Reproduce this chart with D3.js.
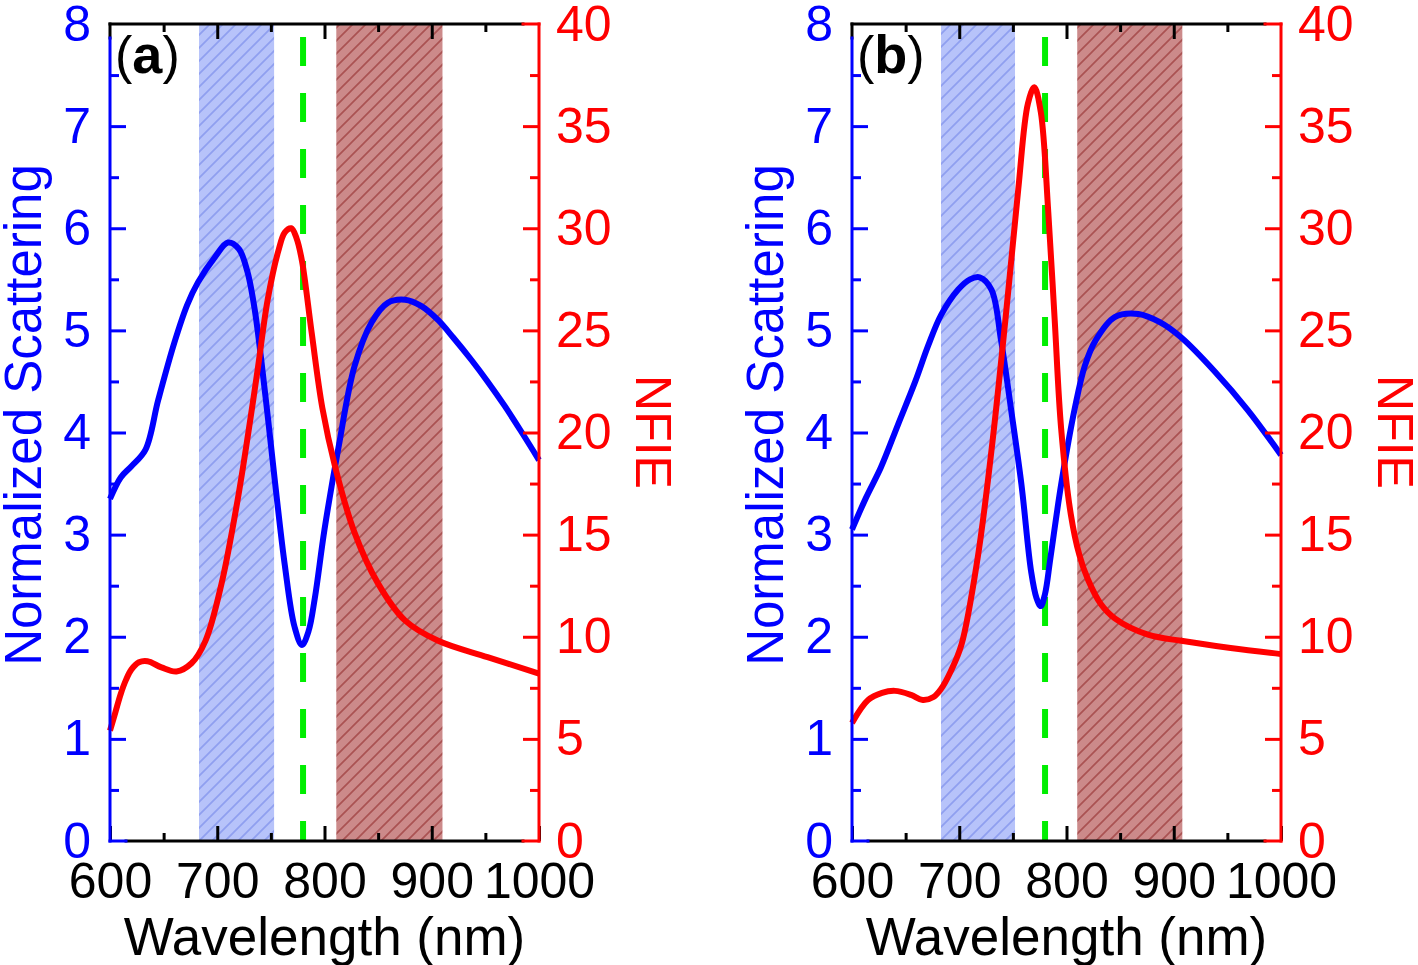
<!DOCTYPE html>
<html><head><meta charset="utf-8">
<script src="https://cdn.jsdelivr.net/npm/d3@7"></script>
<style>
html,body{margin:0;padding:0;background:#fff;}
svg{display:block;font-family:"Liberation Sans",Arial,sans-serif;}
</style></head>
<body>
<svg id="chart" width="1418" height="965"></svg>
<script>
// ---------- DATA ----------
const xTicks = [600, 700, 800, 900, 1000];
const xMinorTicks = [650, 750, 850, 950];
const leftTicks = [0, 1, 2, 3, 4, 5, 6, 7, 8];
const leftMinorTicks = [0.5, 1.5, 2.5, 3.5, 4.5, 5.5, 6.5, 7.5];
const rightTicks = [0, 5, 10, 15, 20, 25, 30, 35, 40];
const rightMinorTicks = [2.5, 7.5, 12.5, 17.5, 22.5, 27.5, 32.5, 37.5];

const panelLabels = ["a", "b"];
const blueBands = [[683, 753], [683, 752]];
const redBands = [[811, 910], [810, 908]];
const markerWavelength = [780, 780];

// panel (a) normalized scattering
const scatA_wl = [600,610,620,633,645,660,672,682,698,710,720,728,735,745,754,763,772,779,785,791,800,813,828,844,859,875,890,906,920,937,952,968,984,1000];
const scatA_v  = [3.35,3.56,3.67,3.83,4.32,4.88,5.25,5.47,5.72,5.86,5.8,5.58,5.2,4.35,3.5,2.7,2.1,1.92,2.05,2.38,3.05,3.85,4.65,5.08,5.27,5.3,5.24,5.1,4.93,4.71,4.5,4.26,4.0,3.73];
// panel (a) NFIE
const nfieA_wl = [600,605,610,615,620,627,635,648,662,676,689,704,719,729,738,747,757,763,769,774,779,788,798,810,828,850,875,906,952,1000];
const nfieA_v  = [5.4,6.3,7.2,7.9,8.4,8.75,8.8,8.5,8.3,8.7,9.8,12.6,16.7,20.0,23.2,26.5,28.9,29.8,30.0,29.5,28.4,24.9,21.2,18.3,15.1,12.6,10.8,9.8,9.0,8.2];
// panel (b) normalized scattering
const scatB_wl = [600,613,627,643,659,671,683,699,710,719,730,739,748,758,767,772,776,780,785,795,808,817,827,845,867,887,907,938,969,1000];
const scatB_v  = [3.05,3.36,3.66,4.08,4.5,4.85,5.15,5.4,5.5,5.52,5.4,4.9,4.25,3.49,2.64,2.38,2.3,2.42,2.77,3.49,4.25,4.65,4.9,5.13,5.16,5.08,4.93,4.6,4.22,3.78];
// panel (b) NFIE
const nfieB_wl = [600,615,628,640,655,666,676,683,692,702,717,730,743,755,764,770,776,783,789,795,804,812,820,832,845,876,907,953,1000];
const nfieB_v  = [5.78,6.9,7.25,7.35,7.15,6.9,7.05,7.44,8.3,9.6,13.8,19.1,25.5,31.9,36.1,36.9,35.7,30.8,25.5,20.2,16.0,14.0,12.8,11.6,10.9,10.1,9.8,9.45,9.15];

const panels = [
  {label: panelLabels[0], scatWl: scatA_wl, scatV: scatA_v, nfieWl: nfieA_wl, nfieV: nfieA_v, blue: blueBands[0], red: redBands[0], mark: markerWavelength[0]},
  {label: panelLabels[1], scatWl: scatB_wl, scatV: scatB_v, nfieWl: nfieB_wl, nfieV: nfieB_v, blue: blueBands[1], red: redBands[1], mark: markerWavelength[1]}
];

// ---------- DRAW ----------
const svg = d3.select("#chart");
const defs = svg.append("defs");
function hatch(id, bg, fg) {
  const s = 13;
  const p = defs.append("pattern").attr("id", id).attr("patternUnits", "userSpaceOnUse")
    .attr("width", s).attr("height", s);
  p.append("rect").attr("width", s).attr("height", s).attr("fill", bg);
  p.append("path").attr("d", `M-1,1 l2,-2 M0,${s} l${s},-${s} M${s-1},${s+1} l2,-2`)
    .attr("stroke", fg).attr("stroke-width", 1.7);
}
hatch("hBlue", "#b7c3fa", "#8f9ff0");
hatch("hRed", "#cc8a8a", "#aa5252");

const BLUE = "#0000ff", RED = "#ff0000";
const plotTop = 24, plotBottom = 841, plotW = 429, fs = 50;
const offsets = [110, 852];

panels.forEach((P, i) => {
  const left = offsets[i], right = left + plotW;
  const x = d3.scaleLinear().domain([600, 1000]).range([left, right]);
  const yL = d3.scaleLinear().domain([0, 8]).range([plotBottom, plotTop]);
  const yR = d3.scaleLinear().domain([0, 40]).range([plotBottom, plotTop]);
  const g = svg.append("g");

  // bands
  g.append("rect").attr("x", x(P.blue[0])).attr("y", plotTop).attr("width", x(P.blue[1]) - x(P.blue[0]))
    .attr("height", plotBottom - plotTop).attr("fill", "url(#hBlue)");
  g.append("rect").attr("x", x(P.red[0])).attr("y", plotTop).attr("width", x(P.red[1]) - x(P.red[0]))
    .attr("height", plotBottom - plotTop).attr("fill", "url(#hRed)");

  // green dashed marker
  g.append("line").attr("x1", x(P.mark)).attr("x2", x(P.mark)).attr("y1", plotTop).attr("y2", plotBottom)
    .attr("stroke", "#00ee00").attr("stroke-width", 6)
    .attr("stroke-dasharray", "29,27").attr("stroke-dashoffset", 43);

  // curves
  const lineL = d3.line().x(d => x(d[0])).y(d => yL(d[1])).curve(d3.curveCatmullRom.alpha(0.5));
  const lineR = d3.line().x(d => x(d[0])).y(d => yR(d[1])).curve(d3.curveCatmullRom.alpha(0.5));
  g.append("path").datum(d3.zip(P.scatWl, P.scatV)).attr("d", lineL)
    .attr("fill", "none").attr("stroke", BLUE).attr("stroke-width", 6).attr("stroke-linejoin", "round");
  g.append("path").datum(d3.zip(P.nfieWl, P.nfieV)).attr("d", lineR)
    .attr("fill", "none").attr("stroke", RED).attr("stroke-width", 6).attr("stroke-linejoin", "round");

  // axes
  function styleAxis(sel, color) {
    sel.select(".domain").remove();
    sel.selectAll("line").attr("stroke", color).attr("stroke-width", 3);
    sel.selectAll("text").attr("fill", color).style("font-size", fs + "px")
      .style("font-family", '"Liberation Sans", Arial, sans-serif');
  }
  const bAx = g.append("g").attr("transform", `translate(0,${plotBottom})`)
    .call(d3.axisBottom(x).tickValues(xTicks).tickSize(-15).tickPadding(21).tickFormat(d3.format("d")));
  styleAxis(bAx, "#000");
  const bAxm = g.append("g").attr("transform", `translate(0,${plotBottom})`)
    .call(d3.axisBottom(x).tickValues(xMinorTicks).tickSize(-8).tickFormat(""));
  styleAxis(bAxm, "#000");
  const tAx = g.append("g").attr("transform", `translate(0,${plotTop})`)
    .call(d3.axisTop(x).tickValues(xTicks.slice(1, -1)).tickSize(-15).tickFormat(""));
  styleAxis(tAx, "#000");
  const tAxm = g.append("g").attr("transform", `translate(0,${plotTop})`)
    .call(d3.axisTop(x).tickValues(xMinorTicks).tickSize(-8).tickFormat(""));
  styleAxis(tAxm, "#000");

  const lAx = g.append("g").attr("transform", `translate(${left},0)`)
    .call(d3.axisLeft(yL).tickValues(leftTicks).tickSize(-16).tickPadding(19).tickFormat(d3.format("d")));
  styleAxis(lAx, BLUE);
  lAx.selectAll(".tick").filter(d => d === 0 || d === 8).select("line").remove();
  const lAxm = g.append("g").attr("transform", `translate(${left},0)`)
    .call(d3.axisLeft(yL).tickValues(leftMinorTicks).tickSize(-9).tickFormat(""));
  styleAxis(lAxm, BLUE);

  const rAx = g.append("g").attr("transform", `translate(${right},0)`)
    .call(d3.axisRight(yR).tickValues(rightTicks).tickSize(-16).tickPadding(17).tickFormat(d3.format("d")));
  styleAxis(rAx, RED);
  rAx.selectAll(".tick").filter(d => d === 0 || d === 40).select("line").remove();
  const rAxm = g.append("g").attr("transform", `translate(${right},0)`)
    .call(d3.axisRight(yR).tickValues(rightMinorTicks).tickSize(-9).tickFormat(""));
  styleAxis(rAxm, RED);

  // frame lines
  const fr = g.append("g").attr("stroke-width", 3).attr("stroke-linecap", "square");
  fr.append("line").attr("x1", left).attr("x2", right - 16).attr("y1", plotTop).attr("y2", plotTop).attr("stroke", "#000");
  fr.append("line").attr("x1", left).attr("x2", left).attr("y1", plotTop).attr("y2", plotTop + 14).attr("stroke", "#000");
  fr.append("line").attr("x1", left + 16).attr("x2", right - 16).attr("y1", plotBottom).attr("y2", plotBottom).attr("stroke", "#000");
  fr.append("line").attr("x1", left).attr("x2", left).attr("y1", plotTop + 14).attr("y2", plotBottom).attr("stroke", BLUE);
  fr.append("line").attr("x1", left).attr("x2", left + 16).attr("y1", plotBottom).attr("y2", plotBottom).attr("stroke", BLUE);
  fr.append("line").attr("x1", right).attr("x2", right).attr("y1", plotTop).attr("y2", plotBottom).attr("stroke", RED);
  fr.append("line").attr("x1", right - 16).attr("x2", right).attr("y1", plotTop).attr("y2", plotTop).attr("stroke", RED);
  fr.append("line").attr("x1", right - 16).attr("x2", right).attr("y1", plotBottom).attr("y2", plotBottom).attr("stroke", RED);

  // titles
  g.append("text").attr("x", (left + right) / 2).attr("y", 955).attr("text-anchor", "middle")
    .style("font-size", "53px").attr("fill", "#000").text("Wavelength (nm)");
  g.append("text").attr("transform", `translate(${left - 69},415) rotate(-90)`).attr("text-anchor", "middle")
    .style("font-size", "51px").attr("fill", BLUE).text("Normalized Scattering");
  g.append("text").attr("transform", `translate(${right + 97},432) rotate(90)`).attr("text-anchor", "middle")
    .style("font-size", fs + "px").attr("fill", RED).text("NFIE");

  // panel label
  const pl = g.append("text").attr("x", left + 5).attr("y", 73).attr("fill", "#000").style("font-size", "52px");
  pl.append("tspan").text("(");
  pl.append("tspan").style("font-weight", "bold").style("font-size", "54px").text(P.label);
  pl.append("tspan").text(")");
});
</script>
</body></html>
